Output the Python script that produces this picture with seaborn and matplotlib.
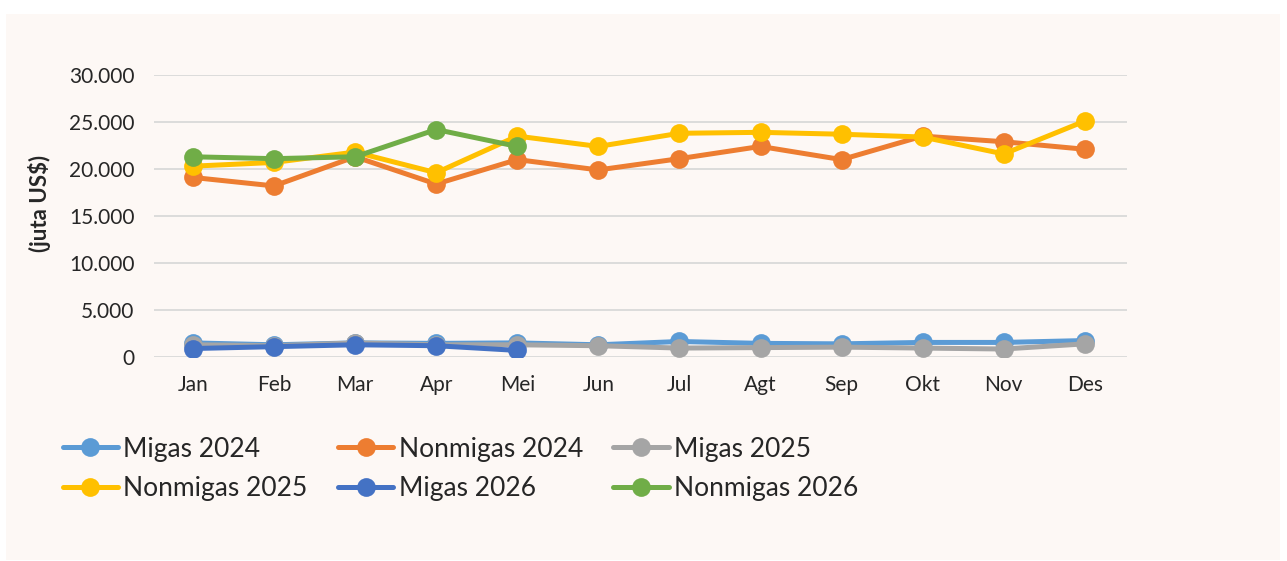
import numpy as np
import pandas as pd
import matplotlib.pyplot as plt
import matplotlib.patches as mpatches
import seaborn as sns

# ============================================================
# Data (juta US$)
# ============================================================

months = ['Jan', 'Feb', 'Mar', 'Apr', 'Mei', 'Jun', 'Jul', 'Agt', 'Sep', 'Okt', 'Nov', 'Des']

migas_2024    = [1500, 1300, 1500, 1450, 1500, 1300, 1650, 1450, 1400, 1550, 1550, 1750]
nonmigas_2024 = [19100, 18200, 21300, 18400, 21000, 19900, 21100, 22400, 21000, 23500, 22900, 22100]
migas_2025    = [1300, 1200, 1500, 1300, 1300, 1200, 950, 1000, 1050, 950, 850, 1400]
nonmigas_2025 = [20300, 20700, 21800, 19600, 23500, 22400, 23800, 23900, 23700, 23400, 21600, 25100]
migas_2026    = [900, 1100, 1300, 1200, 700]
nonmigas_2026 = [21300, 21100, 21300, 24200, 22400]

series = [
    ('Migas 2024', migas_2024, '#5B9BD5'),
    ('Nonmigas 2024', nonmigas_2024, '#ED7D31'),
    ('Migas 2025', migas_2025, '#A5A5A5'),
    ('Nonmigas 2025', nonmigas_2025, '#FFC000'),
    ('Migas 2026', migas_2026, '#4472C4'),
    ('Nonmigas 2026', nonmigas_2026, '#70AD47'),
]

# ============================================================
# Plot
# ============================================================

sns.set_theme(style='white')
plt.rcParams['font.family'] = ['Lato', 'DejaVu Sans']

bg = '#FDF8F5'
fig = plt.figure(figsize=(12.87, 5.61), dpi=100, facecolor='white')

# background panel
bg_ax = fig.add_axes([0, 0, 1, 1], zorder=-10)
bg_ax.set_xlim(0, 1287)
bg_ax.set_ylim(561, 0)
bg_ax.axis('off')
bg_ax.add_patch(mpatches.Rectangle((6, 14), 1274, 546, facecolor=bg, edgecolor='none'))

ax = fig.add_axes([154 / 1287, 1 - 357 / 561, (1127 - 154) / 1287, (357 - 75) / 561])
ax.patch.set_alpha(0)

for name, vals, col in series:
    df = pd.DataFrame({'x': np.arange(len(vals)), 'y': vals})
    sns.lineplot(data=df, x='x', y='y', ax=ax, color=col, linewidth=3.6,
                 marker='o', markersize=13.5, markeredgewidth=0, label=name,
                 solid_capstyle='round', zorder=3)

ax.set_xlim(-0.48, 11.52)
ax.set_ylim(0, 30000)
ax.set_xticks(range(len(months)))
ax.set_xticklabels(months)
ax.set_yticks(range(0, 30001, 5000))
ax.set_yticklabels(['0' if v == 0 else f'{v:,}'.replace(',', '.') for v in range(0, 30001, 5000)])
ax.tick_params(axis='both', length=0, labelsize=15, colors='#262626')
ax.tick_params(axis='y', pad=14)
ax.tick_params(axis='x', pad=13)
ax.yaxis.grid(True, color='#D9D9D9', linewidth=1.3)
ax.set_axisbelow(True)
for s in ax.spines.values():
    s.set_visible(False)
ax.set_xlabel('')
ax.set_ylabel('(juta US$)', fontsize=16, fontweight='bold', color='#262626')
ax.yaxis.set_label_coords(-0.106, 0.545)

# legend filled row by row like the original
handles, labels = ax.get_legend_handles_labels()
order = [0, 3, 1, 4, 2, 5]
ax.legend([handles[i] for i in order], [labels[i] for i in order],
          loc='upper left', bbox_to_anchor=(52 / 1287, 1 - 426 / 561),
          bbox_transform=fig.transFigure, ncol=3, frameon=False, fontsize=19,
          handlelength=2.1, handletextpad=0.2, columnspacing=1.15, labelspacing=0.55,
          borderaxespad=0, labelcolor='#262626')

plt.savefig('out.png', dpi=100, facecolor='white')
